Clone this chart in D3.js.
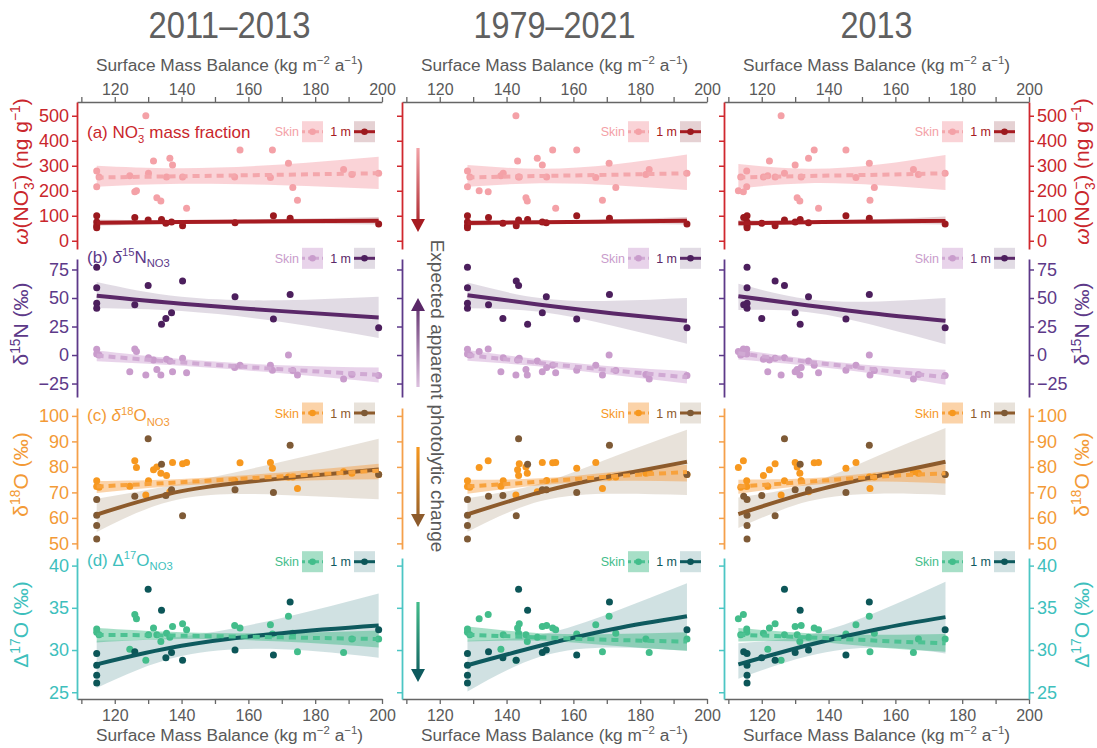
<!DOCTYPE html>
<html><head><meta charset="utf-8">
<script src="https://cdn.jsdelivr.net/npm/d3@7"></script>
<style>
body{margin:0;background:#fff}
svg{display:block}
text{font-family:'Liberation Sans',Arial,sans-serif}
</style>
</head><body>
<svg id="c" width="1097" height="748"></svg>
<script>
// ---------------- DATA ----------------
const periods = ["2011–2013", "1979–2021", "2013"];
const smbMajorTicks = [120, 140, 160, 180, 200];
const smbAllTicks = [110, 120, 130, 140, 150, 160, 170, 180, 190, 200];
const ticksNO3 = [0, 100, 200, 300, 400, 500];
const ticksD15N = [-25, 0, 25, 50, 75];
const ticksD18O = [50, 60, 70, 80, 90, 100];
const ticksD17O = [25, 30, 35, 40];

// skin (surface) sites: SMB for each period
const skinSMB_1113 = [114.6,114.6,115.3,124.5,126,126.5,129.3,130.1,131.6,132.6,133.8,135.5,136.5,137.3,140.3,141.5,155.9,157.5,166.6,167.2,172,173.3,174.7,188.5,199,191];
const skinSMB_7921 = [128.3,128.3,129,138.3,134.5,131.8,142.8,139,143.3,145.8,146.2,143.6,149.2,150.7,143.8,154.7,152,153.8,166.7,161,170.7,172.7,168.7,182.7,194,181.7];
const skinSMB_2013 = [115.5,115.5,113.7,121.8,114.5,113,125.8,126.8,122.3,130.6,131.4,120.5,134,130,124,137,131.8,135.7,148.2,145.2,152.2,153.7,152.4,165.4,174.9,166.9];
const skinNO3  = [279,216,255,260,196,200,500,270,319,172,159,255,330,303,255,130,255,363,253,363,310,213,162,285,270,265];
const skinD15N = [5,1,0,-14.6,5.2,3.2,-17.5,-2.4,-4.4,-12.6,-17.5,-3.6,-5.3,-14.6,-2.9,-15.5,-11,-9,-9,-13.4,0,-13.5,-17.5,-21,-18,-17];
const skinD18O = [74.6,72.3,72,72.4,82.4,79.8,69,74.6,78.9,80,77.5,76.6,70.3,81.7,81.2,81.7,74.7,81.6,81.7,79.5,76,76,71.5,78.1,77,77.5];
const skinD17O = [32.5,32.1,31.8,30.1,34.2,33.7,28.8,31.8,32.6,31.8,31.0,32,31.5,32.8,33.1,32.4,32.9,32.6,33.0,31.9,34.0,32,29.8,29.7,31.3,31.3];

// 1 m sites
const coreSMB_1113 = [114.6,114.6,114.6,114.6,126,130,134,135.3,137,140.3,156,167.5,172.5,199];
const coreSMB_7921 = [128.3,128.3,128.3,128.3,134.6,143.6,146.3,138.9,150.7,142.9,151.9,161,170.8,194];
const coreSMB_2013 = [115.6,115.6,115.6,115.6,114.6,126.8,131.5,120,130,124,134,145.2,152.2,174.9];
const coreNO3  = [100,75,60,52,93,83,85,70,75,60,72,100,90,67];
const coreD15N = [77,59,45.5,41,44,61,27,32,37,65,51,31.5,53,24];
const coreD18O = [67.2,61,57,51.7,68.5,91,81,68.8,71,60.8,71,70,88.5,77];
const coreD17O = [29.6,28.2,27,26.1,29.8,37.2,34.7,29.1,29.7,28.8,30,29.4,35.7,32.4];

// fitted curves: x samples, then [fit, lower, upper] at those x
const fitX_1113 = [114.6, 140, 170, 199];
const fitX_7921 = [128.3, 150, 172, 194];
const fitX_2013 = [113, 134, 155, 175];

const fit1113_NO3_skin  = [[253,258,264,270],[216,228,222,207],[300,290,305,336]];
const fit1113_NO3_core  = [[72,75,78,80],[60,68,68,65],[85,82,87,95]];
const fit1113_D15N_skin = [[-0.5,-6.5,-12.5,-17.5],[-5.5,-9.5,-16,-24],[4,-3.5,-9,-11]];
const fit1113_D15N_core = [[52,45,38.5,33],[41,38.5,29,15],[64,51,48,51]];
const fit1113_D18O_skin = [[72.3,74,76.3,78.5],[69.8,72.7,74.5,75.2],[74.5,75.3,77.8,81.2]];
const fit1113_D18O_core = [[61.3,70.5,75.5,79],[54.5,67.5,69,67.3],[67.5,73.5,82,91]];
const fit1113_D17O_skin = [[31.8,31.7,31.5,31.3],[30.9,31.3,31.0,30.3],[32.6,32.1,32.0,32.3]];
const fit1113_D17O_core = [[28.3,30.5,32.0,32.9],[25.5,29.3,30.1,29.1],[31.1,31.6,33.8,36.7]];

const fit7921_NO3_skin  = [[253,259,264,270],[216,230,222,203],[303,288,305,345]];
const fit7921_NO3_core  = [[71,74,77,80],[60,68,68,65],[83,80,86,95]];
const fit7921_D15N_skin = [[0,-7,-13.5,-19.5],[-5,-10,-17.5,-25],[4.5,-4,-10,-14]];
const fit7921_D15N_core = [[52.5,44,36.5,30],[41,38,25.5,10],[63.5,50,47.5,50]];
const fit7921_D18O_skin = [[72.3,74.2,76.3,78],[69.5,72.8,74.5,74.3],[75,75.5,78,80.8]];
const fit7921_D18O_core = [[61.4,70,76.5,82],[54.6,66.5,69.5,69],[67.7,73.5,84,94.6]];
const fit7921_D17O_skin = [[31.8,31.5,31.2,31.0],[31.0,31.1,30.5,29.9],[32.8,32.0,31.9,32.1]];
const fit7921_D17O_core = [[28.2,30.5,32.5,34],[25.1,29.2,30.3,29.9],[31.1,31.8,34.5,37.9]];

const fit2013_NO3_skin  = [[253,259,264,270],[210,230,222,203],[307,288,305,343]];
const fit2013_NO3_core  = [[70,74,77,80],[58,68,68,65],[83,80,86,97]];
const fit2013_D15N_skin = [[1.5,-6,-13,-19.5],[-4,-9.5,-17,-26],[5,-3.5,-9.5,-13]];
const fit2013_D15N_core = [[51.5,43.5,36,30],[39.5,37.5,25,9.5],[62.5,49,47,50]];
const fit2013_D18O_skin = [[72.3,74.2,76.2,77.5],[69.5,72.8,74.3,73.5],[75,75.5,78,81]];
const fit2013_D18O_core = [[61.5,70,76.5,82],[56,66.5,69.5,69],[68,73.5,84.5,95.3]];
const fit2013_D17O_skin = [[31.8,31.5,31.1,30.8],[31.0,31.0,30.3,29.8],[32.6,32.0,31.8,31.9]];
const fit2013_D17O_core = [[28.3,30.6,32.5,33.9],[26.6,29.3,30.3,29.6],[30.8,31.8,34.6,38.1]];

// ---------------- ASSEMBLY ----------------
const columnsData = [
  {skinX: skinSMB_1113, coreX: coreSMB_1113, fitX: fitX_1113,
   fits: [[fit1113_NO3_skin,fit1113_NO3_core],[fit1113_D15N_skin,fit1113_D15N_core],[fit1113_D18O_skin,fit1113_D18O_core],[fit1113_D17O_skin,fit1113_D17O_core]]},
  {skinX: skinSMB_7921, coreX: coreSMB_7921, fitX: fitX_7921,
   fits: [[fit7921_NO3_skin,fit7921_NO3_core],[fit7921_D15N_skin,fit7921_D15N_core],[fit7921_D18O_skin,fit7921_D18O_core],[fit7921_D17O_skin,fit7921_D17O_core]]},
  {skinX: skinSMB_2013, coreX: coreSMB_2013, fitX: fitX_2013,
   fits: [[fit2013_NO3_skin,fit2013_NO3_core],[fit2013_D15N_skin,fit2013_D15N_core],[fit2013_D18O_skin,fit2013_D18O_core],[fit2013_D17O_skin,fit2013_D17O_core]]}
];
const skinVals = [skinNO3, skinD15N, skinD18O, skinD17O];
const coreVals = [coreNO3, coreD15N, coreD18O, coreD17O];
const rowTicks = [ticksNO3, ticksD15N, ticksD18O, ticksD17O];

// ---------------- LAYOUT & STYLE ----------------
const svg = d3.select("#c");
const GRAY = "#595959";
const colRange = [[77,382],[402,707],[724,1029]];
const rowRange = [[249,102],[397,259],[549,408],[699,558]];
const smbDomain = [108.7, 200];
const rowDomain = [[-33,555],[-36.8,84.2],[47.8,103.1],[24.2,40.9]];
const legendY = [131.7, 258.3, 413, 561.7];
const labelY = [138, 262.5, 421, 565.5];
const legendRight = [375, 701, 1015];
const titleWidths = [162, 162, 72];

const styles = [
  {axis:"#d0282e", text:"#c9262c", skinPt:"#f4a1a7", skinLine:"#f4a7ac", skinBand:"rgba(240,130,140,0.35)", corePt:"#9b191e", coreLine:"#a61b21", coreBand:"rgba(150,70,80,0.25)"},
  {axis:"#5d3989", text:"#5d3989", skinPt:"#c99ccc", skinLine:"#d0a9d3", skinBand:"rgba(200,150,205,0.42)", corePt:"#4c1f5d", coreLine:"#5a2868", coreBand:"rgba(120,90,130,0.22)"},
  {axis:"#f5a04a", text:"#f39a36", skinPt:"#f7981f", skinLine:"#f8a23c", skinBand:"rgba(245,150,50,0.42)", corePt:"#7e5a36", coreLine:"#8d5b2c", coreBand:"rgba(140,110,70,0.2)"},
  {axis:"#4cc6c4", text:"#3ebfbd", skinPt:"#43bd8b", skinLine:"#4dc293", skinBand:"rgba(60,185,130,0.45)", corePt:"#0c5658", coreLine:"#0e5a5e", coreBand:"rgba(40,120,125,0.22)"}
];

function rich(sel, parts, fs){
  let shift = 0;
  parts.forEach(p => {
    const s = p[0], k = p[1] || "";
    const t = sel.append("tspan").text(s);
    let target = 0, size = fs;
    if (k.startsWith("sub")) { target = fs*0.28; size = fs*0.66; }
    else if (k.startsWith("sup")) { target = -fs*0.38; size = fs*0.66; }
    t.attr("dy", target - shift).attr("font-size", size);
    if (k === "supS") t.attr("dx", -fs*0.66*0.55);
    if (k === "it") t.attr("font-style", "italic");
    shift = target;
  });
}

const panelLabels = [
  [["(a) NO"],["3","sub"],["−","supS"],[" mass fraction"]],
  [["(b) "],["δ","it"],["15","sup"],["N"],["NO3","sub"]],
  [["(c) "],["δ","it"],["18","sup"],["O"],["NO3","sub"]],
  [["(d) Δ"],["17","sup"],["O"],["NO3","sub"]]
];
const yTitles = [
  [["ω","it"],["(NO"],["3","sub"],["−","supS"],[") (ng g"],["−1","sup"],[")"]],
  [["δ"],["15","sup"],["N (‰)"]],
  [["δ"],["18","sup"],["O (‰)"]],
  [["Δ"],["17","sup"],["O (‰)"]]
];
const smbTitle = [["Surface Mass Balance (kg m"],["−2","sup"],[" a"],["−1","sup"],[")"]];

const defs = svg.append("defs");

// ---------------- DRAW ----------------
columnsData.forEach((col, ci) => {
  const x = d3.scaleLinear().domain(smbDomain).range(colRange[ci]);
  const cx = (colRange[ci][0] + colRange[ci][1]) / 2;

  // column title
  svg.append("text").attr("x", cx).attr("y", 38).attr("text-anchor","middle")
    .attr("fill", "#606060").attr("font-size", 37)
    .attr("textLength", titleWidths[ci]).attr("lengthAdjust", "spacingAndGlyphs")
    .text(periods[ci]);

  // top axis
  const topAx = d3.axisTop(x).tickValues(smbAllTicks)
    .tickFormat(d => smbMajorTicks.includes(d) ? d : "").tickSize(5).tickSizeOuter(0).tickPadding(2);
  const gt = svg.append("g").attr("transform", `translate(0,${rowRange[0][1]})`).call(topAx);
  // bottom axis
  const botAx = d3.axisBottom(x).tickValues(smbAllTicks)
    .tickFormat(d => smbMajorTicks.includes(d) ? d : "").tickSize(5).tickSizeOuter(0).tickPadding(6);
  const gb = svg.append("g").attr("transform", `translate(0,${rowRange[3][0]})`).call(botAx);
  [gt, gb].forEach(g => {
    g.select(".domain").attr("stroke", "#666").attr("stroke-width", 1.6);
    g.selectAll(".tick line").attr("stroke", "#666").attr("stroke-width", 1.3);
    g.selectAll(".tick text").attr("fill", GRAY).attr("font-size", 16)
      .style("font-family","'Liberation Sans',Arial,sans-serif");
  });
  const tt = svg.append("text").attr("x", cx).attr("y", 71).attr("text-anchor","middle")
    .attr("fill", GRAY).attr("font-size", 17.3);
  rich(tt, smbTitle, 17.3);
  const bt = svg.append("text").attr("x", cx).attr("y", 741).attr("text-anchor","middle")
    .attr("fill", GRAY).attr("font-size", 17.3);
  rich(bt, smbTitle, 17.3);

  rowDomain.forEach((dom, ri) => {
    const st = styles[ri];
    const y = d3.scaleLinear().domain(dom).range(rowRange[ri]);
    const [fitSkin, fitCore] = col.fits[ri];

    // y axes
    const left = d3.axisLeft(y).tickValues(rowTicks[ri]).tickSize(5).tickSizeOuter(0).tickPadding(3);
    if (ci !== 0) left.tickFormat("");
    const gl = svg.append("g").attr("transform", `translate(${colRange[ci][0]},0)`).call(left);
    const axes = [gl];
    if (ci === 2) {
      const right = d3.axisRight(y).tickValues(rowTicks[ri]).tickSize(5).tickSizeOuter(0).tickPadding(3);
      axes.push(svg.append("g").attr("transform", `translate(${colRange[ci][1]},0)`).call(right));
    }
    axes.forEach(g => {
      g.select(".domain").attr("stroke", st.axis).attr("stroke-width", 1.8);
      g.selectAll(".tick line").attr("stroke", st.axis).attr("stroke-width", 1.5);
      g.selectAll(".tick text").attr("fill", st.text).attr("font-size", 18)
        .style("font-family","'Liberation Sans',Arial,sans-serif");
    });

    // y titles
    if (ci === 0 || ci === 2) {
      const tx = ci === 0 ? 28 : 1089;
      const tyc = (rowRange[ri][0] + rowRange[ri][1]) / 2 - 4;
      const yt = svg.append("text").attr("transform", `translate(${tx},${tyc}) rotate(-90)`)
        .attr("text-anchor","middle").attr("fill", st.text).attr("font-size", 21);
      rich(yt, yTitles[ri], 21);
    }

    // bands
    const area = d3.area().curve(d3.curveNatural)
      .x((d,i) => x(col.fitX[i])).y0(d => y(d[0])).y1(d => y(d[1]));
    const line = d3.line().curve(d3.curveNatural)
      .x((d,i) => x(col.fitX[i])).y(d => y(d));
    const bandData = f => f[1].map((lo,i) => [lo, f[2][i]]);
    svg.append("path").attr("d", area(bandData(fitCore))).attr("fill", st.coreBand);
    svg.append("path").attr("d", area(bandData(fitSkin))).attr("fill", st.skinBand);

    // points
    svg.append("g").selectAll("circle").data(col.skinX).join("circle")
      .attr("cx", d => x(d)).attr("cy", (d,i) => y(skinVals[ri][i])).attr("r", 3.5)
      .attr("fill", st.skinPt);
    svg.append("g").selectAll("circle").data(col.coreX).join("circle")
      .attr("cx", d => x(d)).attr("cy", (d,i) => y(coreVals[ri][i])).attr("r", 3.5)
      .attr("fill", st.corePt);

    // fit lines
    svg.append("path").attr("d", line(fitCore[0])).attr("fill","none")
      .attr("stroke", st.coreLine).attr("stroke-width", 4).attr("stroke-linecap","butt");
    svg.append("path").attr("d", line(fitSkin[0])).attr("fill","none")
      .attr("stroke", st.skinLine).attr("stroke-width", 4).attr("stroke-dasharray","7,5");

    // legend
    const R = legendRight[ci], ly = legendY[ri];
    const lg = svg.append("g");
    lg.append("text").attr("x", R-76).attr("y", ly+4.5).attr("text-anchor","end")
      .attr("fill", st.skinPt).attr("font-size", 12.5).text("Skin");
    lg.append("rect").attr("x", R-73).attr("y", ly-10.5).attr("width", 21).attr("height", 21).attr("fill", st.skinBand);
    lg.append("line").attr("x1", R-73).attr("x2", R-52).attr("y1", ly).attr("y2", ly)
      .attr("stroke", st.skinLine).attr("stroke-width", 3).attr("stroke-dasharray","4,3").attr("stroke-dashoffset", 1);
    lg.append("circle").attr("cx", R-62.5).attr("cy", ly).attr("r", 3.3).attr("fill", st.skinPt);
    lg.append("text").attr("x", R-24).attr("y", ly+4.5).attr("text-anchor","end")
      .attr("fill", st.coreLine).attr("font-size", 12.5).text("1 m");
    lg.append("rect").attr("x", R-21).attr("y", ly-10.5).attr("width", 21).attr("height", 21).attr("fill", st.coreBand);
    lg.append("line").attr("x1", R-21).attr("x2", R).attr("y1", ly).attr("y2", ly)
      .attr("stroke", st.coreLine).attr("stroke-width", 3);
    lg.append("circle").attr("cx", R-10.5).attr("cy", ly).attr("r", 3.3).attr("fill", st.corePt);

    // panel labels
    if (ci === 0) {
      const pl = svg.append("text").attr("x", 87).attr("y", labelY[ri]).attr("fill", st.text).attr("font-size", 17);
      rich(pl, panelLabels[ri], 17);
    }
  });
});

// ---------------- ARROWS (expected change) ----------------
const arrows = [
  {tail:148, tip:232, light:"#f3a3a8", dark:"#a61b21"},
  {tail:386, tip:298, light:"#dcc0de", dark:"#5a2868"},
  {tail:447, tip:527, light:"#f7981f", dark:"#8d5b2c"},
  {tail:602, tip:682, light:"#43bd8b", dark:"#0e5a5e"}
];
const ax = 418;
arrows.forEach((a, i) => {
  const gid = "ag" + i;
  const gr = defs.append("linearGradient").attr("id", gid).attr("gradientUnits","userSpaceOnUse")
    .attr("x1", ax).attr("x2", ax).attr("y1", a.tail).attr("y2", a.tip);
  gr.append("stop").attr("offset", "0%").attr("stop-color", a.light);
  gr.append("stop").attr("offset", "100%").attr("stop-color", a.dark);
  const dir = a.tip > a.tail ? 1 : -1;
  const head = 13;
  svg.append("rect").attr("x", ax-1.6).attr("width", 3.2)
    .attr("y", Math.min(a.tail, a.tip - dir*head)).attr("height", Math.abs(a.tip - dir*head - a.tail) + 1)
    .attr("fill", `url(#${gid})`);
  svg.append("path")
    .attr("d", `M${ax-7},${a.tip - dir*head} L${ax+7},${a.tip - dir*head} L${ax},${a.tip} Z`)
    .attr("fill", a.dark);
});
svg.append("text").attr("transform", "translate(437,396) rotate(90)")
  .attr("text-anchor","middle").attr("dominant-baseline","central")
  .attr("fill", GRAY).attr("font-size", 19).text("Expected apparent photolytic change");
</script>
</body></html>
